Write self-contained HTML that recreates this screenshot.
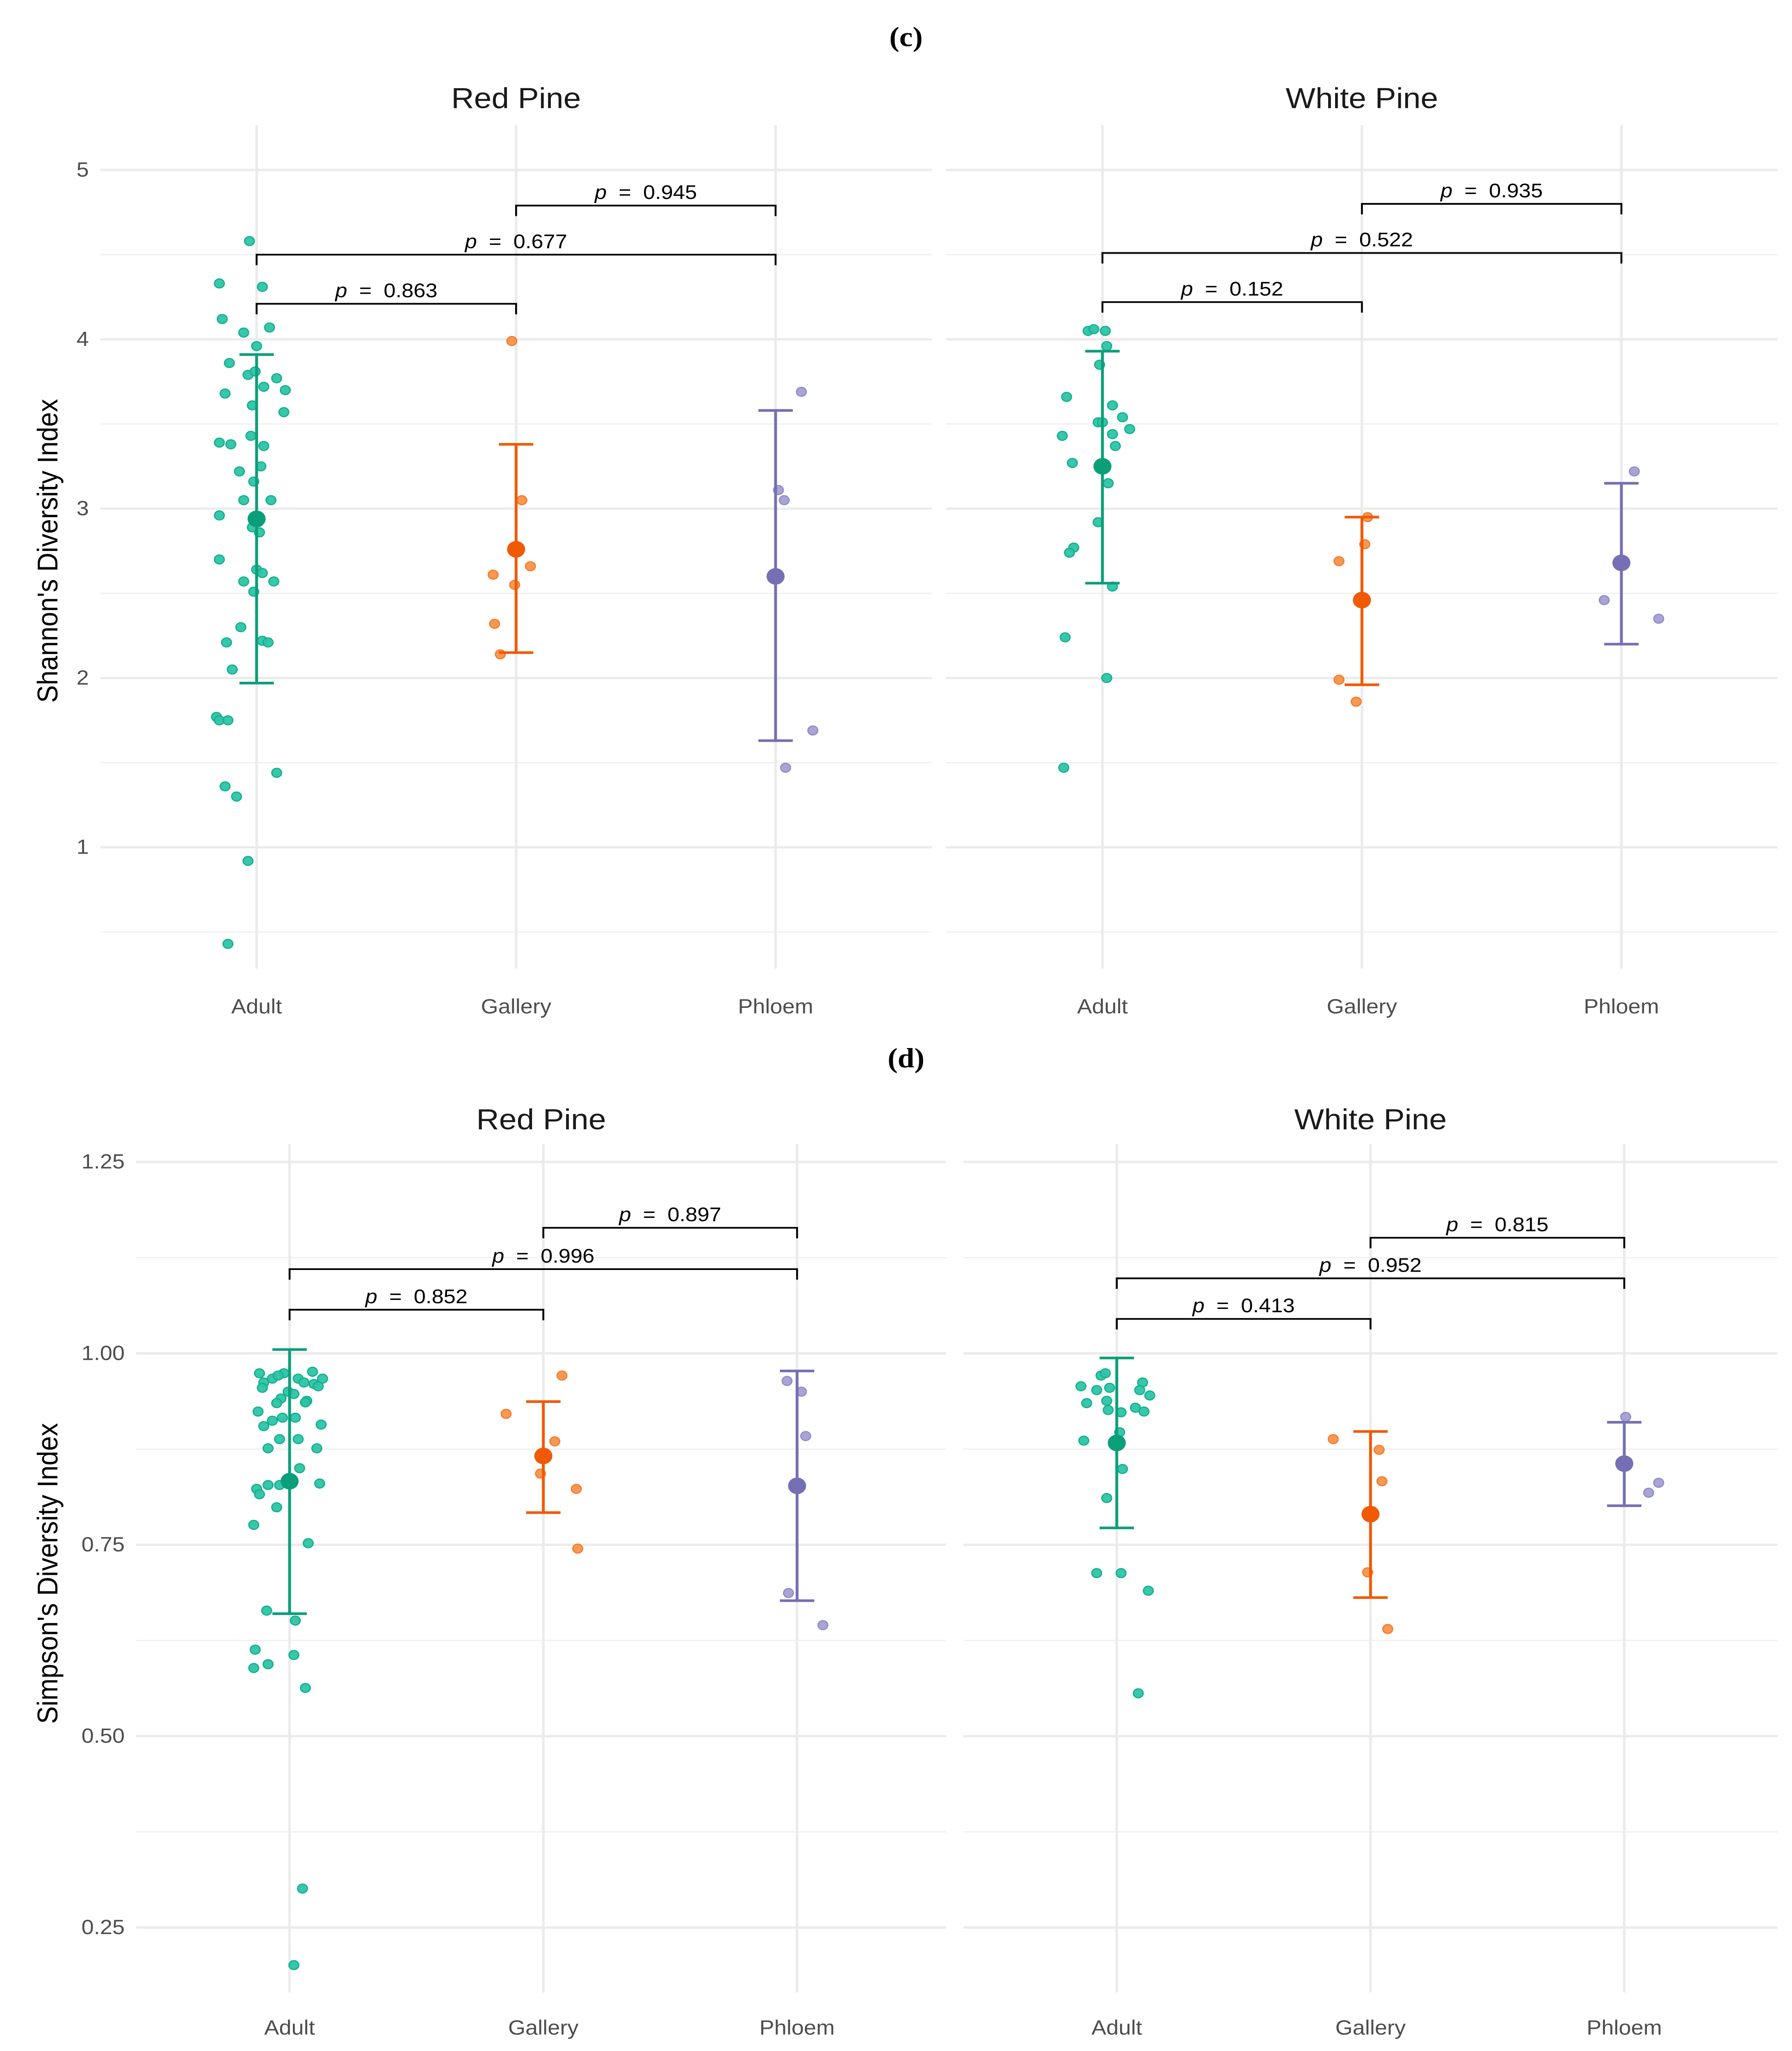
<!DOCTYPE html>
<html><head><meta charset="utf-8"><style>
html,body{margin:0;padding:0;background:#fff;overflow:hidden;width:100%;height:100%;}
svg{display:block;position:fixed;left:0;top:0;width:100vw;height:100vh;}
text{font-family:"Liberation Sans",sans-serif;}
text.serif{font-family:"Liberation Serif",serif;}
</style></head><body>
<svg id="chart" viewBox="0 0 1250 1556.4" preserveAspectRatio="none" xmlns="http://www.w3.org/2000/svg"></svg>
<script>
const categories = ["Adult","Gallery","Phloem"];
const facets = ["Red Pine","White Pine"];
// [jitter, value]
const shRedAdult = [[-5,4.58],[-26,4.33],[4,4.31],[-24,4.12],[9,4.07],[-9,4.04],[0,3.96],[-19,3.86],[14,3.77],[-6,3.79],[-1,3.81],[5,3.72],[-22,3.68],[20,3.70],[-3,3.61],[19,3.57],[-26,3.39],[-18,3.38],[-4,3.43],[5,3.37],[-12,3.22],[3,3.25],[-2,3.16],[-9,3.05],[10,3.05],[-26,2.96],[1,2.92],[-3,2.89],[2,2.86],[-26,2.70],[0,2.64],[4,2.62],[-9,2.57],[12,2.57],[-2,2.51],[-11,2.30],[4,2.22],[8,2.21],[-21,2.21],[-17,2.05],[-28,1.77],[-26,1.75],[-20,1.75],[14,1.44],[-22,1.36],[-14,1.30],[-6,0.92],[-20,0.43]];
const shRedGallery = [[-3,3.99],[4,3.05],[10,2.66],[-16,2.61],[-1,2.55],[-15,2.32],[-11,2.14]];
const shRedPhloem = [[18,3.69],[2,3.11],[6,3.05],[26,1.69],[7,1.47]];
const shWhiteAdult = [[-10,4.05],[-6,4.06],[2,4.05],[3,3.96],[-2,3.85],[-25,3.66],[7,3.61],[14,3.54],[-3,3.51],[0,3.51],[19,3.47],[7,3.44],[-28,3.43],[9,3.37],[-21,3.27],[4,3.15],[-3,2.92],[-20,2.77],[-23,2.74],[7,2.54],[-26,2.24],[3,2.00],[-27,1.47]];
const shWhiteGallery = [[4,2.95],[2,2.79],[-16,2.69],[-16,1.99],[-4,1.86]];
const shWhitePhloem = [[9,3.22],[-12,2.46],[26,2.35]];
// [mean, upper, lower]
const shSummary = [[[2.94,3.91,1.97],[2.76,3.38,2.15],[2.60,3.58,1.63]],[[3.25,3.93,2.56],[2.46,2.95,1.96],[2.68,3.15,2.20]]];
// [from, to, level, label]
const shBrackets = [[[0,1,4.21,"0.863"],[0,2,4.50,"0.677"],[1,2,4.79,"0.945"]],[[0,1,4.22,"0.152"],[0,2,4.51,"0.522"],[1,2,4.80,"0.935"]]];
const shTicks = [1,2,3,4,5];
const shTickLabels = ["1","2","3","4","5"];

const siRedAdult = [[-21,0.974],[-4,0.974],[16,0.976],[23,0.967],[-18,0.962],[-12,0.967],[-8,0.971],[6,0.967],[17,0.960],[20,0.957],[10,0.962],[-19,0.955],[-1,0.950],[3,0.947],[-6,0.941],[12,0.938],[-22,0.924],[-9,0.935],[11,0.936],[22,0.907],[-18,0.905],[-5,0.916],[-12,0.912],[4,0.916],[19,0.876],[-15,0.876],[-7,0.888],[6,0.888],[7,0.850],[-23,0.823],[21,0.830],[-15,0.828],[-7,0.828],[-21,0.816],[-9,0.799],[-25,0.776],[13,0.752],[-16,0.664],[4,0.651],[-24,0.613],[3,0.606],[-15,0.594],[-25,0.589],[11,0.563],[9,0.301],[3,0.201]];
const siRedGallery = [[13,0.971],[-26,0.921],[8,0.885],[0,0.864],[-2,0.843],[23,0.823],[24,0.745]];
const siRedPhloem = [[-7,0.964],[3,0.950],[6,0.892],[-6,0.687],[18,0.645]];
const siWhiteAdult = [[-11,0.971],[-8,0.974],[-25,0.957],[-14,0.952],[-5,0.955],[18,0.962],[16,0.952],[23,0.945],[-21,0.935],[-7,0.938],[13,0.929],[19,0.924],[-6,0.926],[3,0.923],[2,0.897],[-23,0.886],[4,0.849],[-7,0.811],[-14,0.713],[3,0.713],[22,0.690],[15,0.556]];
const siWhiteGallery = [[-26,0.888],[6,0.874],[8,0.833],[-2,0.714],[12,0.640]];
const siWhitePhloem = [[1,0.917],[24,0.831],[17,0.818]];
const siSummary = [[[0.833,1.005,0.660],[0.866,0.937,0.792],[0.827,0.977,0.677]],[[0.883,0.994,0.772],[0.790,0.898,0.681],[0.856,0.910,0.801]]];
const siBrackets = [[[0,1,1.057,"0.852"],[0,2,1.110,"0.996"],[1,2,1.164,"0.897"]],[[0,1,1.045,"0.413"],[0,2,1.098,"0.952"],[1,2,1.151,"0.815"]]];
const siTicks = [0.25,0.5,0.75,1.0,1.25];
const siTickLabels = ["0.25","0.50","0.75","1.00","1.25"];

const NS="http://www.w3.org/2000/svg";
const svg=document.getElementById('chart');
function mk(tag,attrs,parent){const e=document.createElementNS(NS,tag);for(const k in attrs)e.setAttribute(k,attrs[k]);(parent||svg).appendChild(e);return e;}
const ptFill=["#2ec4a8","#f7934c","#a39fd2"], ptStroke=["#14b08d","#f57d2c","#928dc8"], mainCol=["#0b9f79","#f05a05","#7570b3"];

function panel(cfg){
  const g=mk('g',{});
  
  
  const y=v=>cfg.y0-(v-cfg.v0)*cfg.k;
  const pl=mk('text',{x:632,y:cfg.labelY,'text-anchor':'middle','font-size':21,'font-weight':'bold',fill:'#000','class':'serif'},g);
  pl.textContent=cfg.label;
  
  
  const yt=mk('text',{transform:`translate(40,${cfg.yTitleY}) rotate(-90)`,'text-anchor':'middle','font-size':20,fill:'#000'},g);
  yt.textContent=cfg.yTitle;
  
  
  for(let f=0;f<2;f++){
    const [xl,xr]=cfg.fx[f];
    const cx=i=>cfg.cats[f][0]+i*cfg.step;
    const fg=mk('g',{},g);
    
    
    const ft=mk('text',{x:(xl+xr)/2,y:cfg.titleY,'text-anchor':'middle','font-size':22,fill:'#1a1a1a'},fg);
    ft.textContent=facets[f];
    
    
    for(let i=0;i<cfg.ticks.length+1;i++){
      const v=cfg.ticks[0]+(i-0.5)*(cfg.ticks[1]-cfg.ticks[0]);
      const yy=y(v); if(yy<cfg.top||yy>cfg.bot) continue;
      mk('line',{x1:xl,x2:xr,y1:yy,y2:yy,stroke:'#f0f0f0','stroke-width':1},fg);
    }
    cfg.ticks.forEach((v,i)=>{
      const yy=y(v);
      const gl=mk('line',{x1:xl,x2:xr,y1:yy,y2:yy,stroke:'#ebebeb','stroke-width':1.8},fg);
      
      
      if(f===0){
        const tl=mk('text',{x:xl-8,y:yy+5,'text-anchor':'end','font-size':15.5,fill:'#4d4d4d'},fg);
        tl.textContent=cfg.tickLabels[i];
        
        
      }
    });
    categories.forEach((c,i)=>{
      mk('line',{x1:cx(i),x2:cx(i),y1:cfg.top,y2:cfg.bot,stroke:'#ebebeb','stroke-width':1.8},fg);
      const xt=mk('text',{x:cx(i),y:cfg.xLabY,'text-anchor':'middle','font-size':15.5,fill:'#4d4d4d'},fg);
      xt.textContent=c;
      
      
    });
    cfg.pts[f].forEach((arr,i)=>{
      arr.forEach(p=>{
        const c=mk('circle',{cx:cx(i)+p[0],cy:y(p[1]),r:3.4,fill:ptFill[i],stroke:ptStroke[i],'stroke-width':0.9,'fill-opacity':0.95},fg);
        
        
      });
    });
    cfg.summary[f].forEach((s,i)=>{
      const x=cx(i),col=mainCol[i];
      const eb=mk('path',{d:`M${x-12},${y(s[1])}H${x+12}M${x},${y(s[1])}V${y(s[2])}M${x-12},${y(s[2])}H${x+12}`,stroke:col,'stroke-width':2,fill:'none'},fg);
      
      
      const m=mk('circle',{cx:x,cy:y(s[0]),r:6.3,fill:col},fg);
      
      
    });
    cfg.brackets[f].forEach(b=>{
      const x1=cx(b[0]),x2=cx(b[1]),yy=y(b[2]);
      const br=mk('path',{d:`M${x1},${yy+8}V${yy}H${x2}V${yy+8}`,stroke:'#000','stroke-width':1.3,fill:'none'},fg);
      
      
      const t=mk('text',{x:(x1+x2)/2,y:yy-5,'text-anchor':'middle','font-size':15,fill:'#000'},fg);
      t.innerHTML='<tspan font-style="italic">p</tspan>\u00a0 = \u00a0'+b[3];
      
      
    });
  }
}
panel({name:'panel-c-shannon',label:'(c)',labelY:35,yTitle:"Shannon's Diversity Index",yTitleY:418,titleY:82,
  fx:[[70,650],[660,1240]],cats:[[179],[769]],step:181,top:95,bot:735,y0:643,v0:1,k:128.5,
  ticks:shTicks,tickLabels:shTickLabels,xLabY:769,
  pts:[[shRedAdult,shRedGallery,shRedPhloem],[shWhiteAdult,shWhiteGallery,shWhitePhloem]],
  summary:shSummary,brackets:shBrackets});
panel({name:'panel-d-simpson',label:'(d)',labelY:810,yTitle:"Simpson's Diversity Index",yTitleY:1194,titleY:857,
  fx:[[95,660],[672,1240]],cats:[[202],[779]],step:177,top:868,bot:1512,y0:1027,v0:1,k:581,
  ticks:siTicks,tickLabels:siTickLabels,xLabY:1544,
  pts:[[siRedAdult,siRedGallery,siRedPhloem],[siWhiteAdult,siWhiteGallery,siWhitePhloem]],
  summary:siSummary,brackets:siBrackets});
</script>
</body></html>
